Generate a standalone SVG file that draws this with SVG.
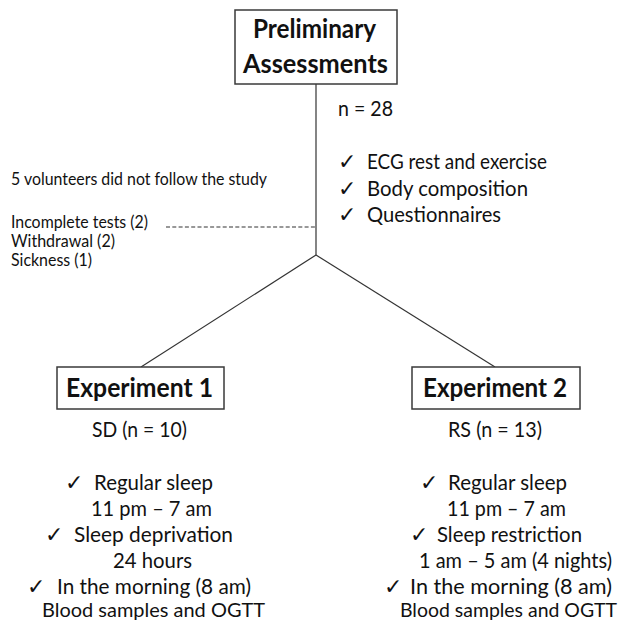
<svg xmlns="http://www.w3.org/2000/svg" width="622" height="625" viewBox="0 0 622 625">
<style>
.box{fill:#fff;stroke:#3a3a3a;stroke-width:1.5}
.ln{stroke:#333;stroke-width:1.2;fill:none}
.dash{stroke:#333;stroke-width:1.1;stroke-dasharray:4 2.3;fill:none}
.t{font-family:Lato,"Open Sans","Liberation Sans",sans-serif;fill:#111}
.b{font-size:21px}
.s{font-size:17.5px}
.h{font-size:26px;font-weight:bold}
.ck{font-family:"DejaVu Sans",sans-serif;font-size:22px;fill:#111}
</style>
<rect width="622" height="625" fill="#fff"/>
<g id="connectors">
<line class="ln" x1="316" y1="84" x2="316" y2="255"/>
<line class="ln" x1="316" y1="255" x2="141" y2="367"/>
<line class="ln" x1="316" y1="255" x2="495" y2="367"/>
<line class="dash" x1="166" y1="227" x2="316" y2="227"/>
</g>
<g id="preliminary">
<rect class="box" x="235" y="10" width="162" height="74"/>
<text class="t h" x="253" y="38" textLength="123" lengthAdjust="spacingAndGlyphs">Preliminary</text>
<text class="t h" x="243" y="73" textLength="145" lengthAdjust="spacingAndGlyphs">Assessments</text>
</g>
<g id="preliminary-details">
<text class="t b" x="338" y="116" textLength="55" lengthAdjust="spacingAndGlyphs">n = 28</text>
<text class="ck" x="338" y="169">✓</text>
<text class="t b" x="367" y="169" textLength="180" lengthAdjust="spacingAndGlyphs">ECG rest and exercise</text>
<text class="ck" x="338" y="196">✓</text>
<text class="t b" x="367" y="196" textLength="161" lengthAdjust="spacingAndGlyphs">Body composition</text>
<text class="ck" x="338" y="222">✓</text>
<text class="t b" x="367" y="222" textLength="134" lengthAdjust="spacingAndGlyphs">Questionnaires</text>
</g>
<g id="dropouts">
<text class="t s" x="11" y="185" textLength="256" lengthAdjust="spacingAndGlyphs">5 volunteers did not follow the study</text>
<text class="t s" x="11" y="228" textLength="137" lengthAdjust="spacingAndGlyphs">Incomplete tests (2)</text>
<text class="t s" x="11" y="247" textLength="104" lengthAdjust="spacingAndGlyphs">Withdrawal (2)</text>
<text class="t s" x="11" y="266" textLength="81" lengthAdjust="spacingAndGlyphs">Sickness (1)</text>
</g>
<g id="experiment1">
<rect class="box" x="57" y="367" width="167" height="42"/>
<text class="t h" x="66" y="397" textLength="147" lengthAdjust="spacingAndGlyphs">Experiment 1</text>
</g>
<g id="experiment1-details">
<text class="t b" x="92" y="437" textLength="95" lengthAdjust="spacingAndGlyphs">SD (n = 10)</text>
<text class="ck" x="65" y="490">✓</text>
<text class="t b" x="94" y="490" textLength="119" lengthAdjust="spacingAndGlyphs">Regular sleep</text>
<text class="t b" x="91" y="516" textLength="121" lengthAdjust="spacingAndGlyphs">11 pm – 7 am</text>
<text class="ck" x="45" y="542">✓</text>
<text class="t b" x="74" y="542" textLength="159" lengthAdjust="spacingAndGlyphs">Sleep deprivation</text>
<text class="t b" x="113" y="568" textLength="79" lengthAdjust="spacingAndGlyphs">24 hours</text>
<text class="ck" x="27" y="594">✓</text>
<text class="t b" x="57" y="594" textLength="194" lengthAdjust="spacingAndGlyphs">In the morning (8 am)</text>
<text class="t" x="42" y="617" font-size="20" textLength="223" lengthAdjust="spacingAndGlyphs">Blood samples and OGTT</text>
</g>
<g id="experiment2">
<rect class="box" x="412" y="367" width="168" height="42"/>
<text class="t h" x="423" y="397" textLength="144" lengthAdjust="spacingAndGlyphs">Experiment 2</text>
</g>
<g id="experiment2-details">
<text class="t b" x="448" y="437" textLength="94" lengthAdjust="spacingAndGlyphs">RS (n = 13)</text>
<text class="ck" x="420" y="490">✓</text>
<text class="t b" x="448" y="490" textLength="119" lengthAdjust="spacingAndGlyphs">Regular sleep</text>
<text class="t b" x="447" y="516" textLength="119" lengthAdjust="spacingAndGlyphs">11 pm – 7 am</text>
<text class="ck" x="410" y="542">✓</text>
<text class="t b" x="437" y="542" textLength="145" lengthAdjust="spacingAndGlyphs">Sleep restriction</text>
<text class="t b" x="419" y="568" textLength="193" lengthAdjust="spacingAndGlyphs">1 am – 5 am (4 nights)</text>
<text class="ck" x="384" y="594">✓</text>
<text class="t b" x="410" y="594" textLength="202" lengthAdjust="spacingAndGlyphs">In the morning (8 am)</text>
<text class="t" x="400" y="617" font-size="20" textLength="217" lengthAdjust="spacingAndGlyphs">Blood samples and OGTT</text>
</g>
</svg>
